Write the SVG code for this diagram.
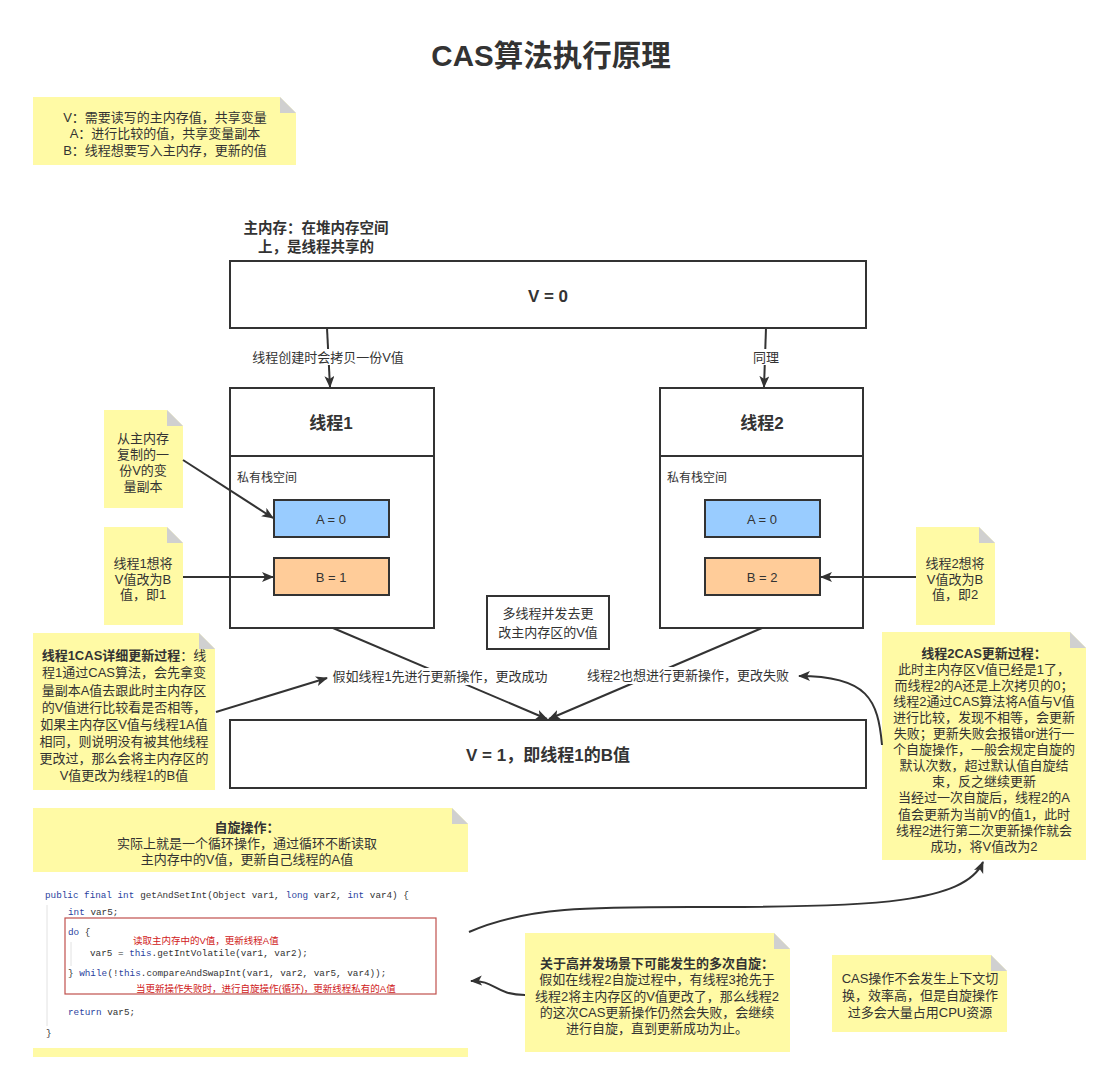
<svg xmlns="http://www.w3.org/2000/svg" width="1111" height="1081" viewBox="0 0 1111 1081">
<style>
.t{font-family:"Liberation Sans","Noto Sans CJK SC",sans-serif;font-size:13px;fill:#333;dominant-baseline:central;text-anchor:middle}
.b{font-weight:bold}
.box{fill:#fff;stroke:#333;stroke-width:2}
.note{fill:#FFFAA5}
.fold{fill:#D0D0D0}
.edge{fill:none;stroke:#333;stroke-width:2}
.code{font-family:"Liberation Mono",monospace;font-size:9.3px;fill:#333}
.kw{fill:#2b3f9e}
.red{font-family:"Liberation Sans","Noto Sans CJK SC",sans-serif;font-size:9.5px;fill:#d02020;dominant-baseline:central}
.lbl{fill:#fff}
</style>
<defs>
<marker id="arr" markerUnits="userSpaceOnUse" markerWidth="14" markerHeight="12" refX="11" refY="5" orient="auto">
<path d="M0,0 L12,5 L0,10 L3,5 Z" fill="#333"/>
</marker>
</defs>
<rect width="1111" height="1081" fill="#fff"/>
<text class="t b" x="551" y="55" style="font-size:29.5px">CAS算法执行原理</text>

<g id="note-legend">
<path class="note" d="M33,97 H280 L296,113 V165 H33 Z"/><path class="fold" d="M280,97 V113 H296 Z"/>
<text class="t" x="165" y="117">V：需要读写的主内存值，共享变量</text>
<text class="t" x="165" y="133">A：进行比较的值，共享变量副本</text>
<text class="t" x="165" y="150">B：线程想要写入主内存，更新的值</text>
</g>

<g id="main-label">
<text class="t b" x="316" y="228" style="font-size:14.5px">主内存：在堆内存空间</text>
<text class="t b" x="316" y="247" style="font-size:14.5px">上，是线程共享的</text>
</g>
<g id="main-memory">
<rect class="box" x="230" y="261" width="636" height="67"/>
<text class="t b" x="548" y="296" style="font-size:17px">V = 0</text>
</g>

<g id="thread1">
<rect class="box" x="230" y="388" width="204" height="240"/>
<line x1="230" y1="456" x2="434" y2="456" stroke="#333" stroke-width="2"/>
<text class="t b" x="331" y="423" style="font-size:17px">线程1</text>
<text class="t" x="237" y="478" style="text-anchor:start;font-size:12px">私有栈空间</text>
</g>
<g id="t1-a"><rect x="274" y="500" width="115" height="37" fill="#99CCFF" stroke="#333" stroke-width="2"/><text class="t" x="331" y="519">A = 0</text></g>
<g id="t1-b"><rect x="274" y="558" width="115" height="37" fill="#FFCC99" stroke="#333" stroke-width="2"/><text class="t" x="331" y="577">B = 1</text></g>

<g id="thread2">
<rect class="box" x="660" y="388" width="203" height="240"/>
<line x1="660" y1="456" x2="863" y2="456" stroke="#333" stroke-width="2"/>
<text class="t b" x="762" y="423" style="font-size:17px">线程2</text>
<text class="t" x="667" y="478" style="text-anchor:start;font-size:12px">私有栈空间</text>
</g>
<g id="t2-a"><rect x="705" y="500" width="115" height="37" fill="#99CCFF" stroke="#333" stroke-width="2"/><text class="t" x="762" y="519">A = 0</text></g>
<g id="t2-b"><rect x="705" y="558" width="115" height="37" fill="#FFCC99" stroke="#333" stroke-width="2"/><text class="t" x="762" y="577">B = 2</text></g>

<g id="concurrent">
<rect class="box" x="487" y="596" width="122" height="53"/>
<text class="t" x="548" y="613">多线程并发去更</text>
<text class="t" x="548" y="632">改主内存区的V值</text>
</g>

<g id="main-memory-after">
<rect class="box" x="230" y="720" width="636" height="68"/>
<text class="t b" x="548" y="755" style="font-size:17px">V = 1，即线程1的B值</text>
</g>

<g id="note-copy">
<path class="note" d="M104,410 H167 L183,426 V508 H104 Z"/><path class="fold" d="M167,410 V426 H183 Z"/>
<text class="t" x="143" y="438">从主内存</text>
<text class="t" x="143" y="454">复制的一</text>
<text class="t" x="143" y="470">份V的变</text>
<text class="t" x="143" y="486">量副本</text>
</g>
<g id="note-b1">
<path class="note" d="M104,527 H167 L183,543 V625 H104 Z"/><path class="fold" d="M167,527 V543 H183 Z"/>
<text class="t" x="143" y="563">线程1想将</text>
<text class="t" x="143" y="579">V值改为B</text>
<text class="t" x="143" y="594">值，即1</text>
</g>
<g id="note-b2">
<path class="note" d="M916,527 H979 L995,543 V625 H916 Z"/><path class="fold" d="M979,527 V543 H995 Z"/>
<text class="t" x="955" y="563">线程2想将</text>
<text class="t" x="955" y="579">V值改为B</text>
<text class="t" x="955" y="594">值，即2</text>
</g>

<g id="note-cas1">
<path class="note" d="M33,633 H199 L215,649 V790 H33 Z"/><path class="fold" d="M199,633 V649 H215 Z"/>
<text class="t" x="124" y="655"><tspan class="b">线程1CAS详细更新过程</tspan>：线</text>
<text class="t" x="124" y="672">程1通过CAS算法，会先拿变</text>
<text class="t" x="124" y="690">量副本A值去跟此时主内存区</text>
<text class="t" x="124" y="707">的V值进行比较看是否相等，</text>
<text class="t" x="124" y="724">如果主内存区V值与线程1A值</text>
<text class="t" x="124" y="741">相同，则说明没有被其他线程</text>
<text class="t" x="124" y="758">更改过，那么会将主内存区的</text>
<text class="t" x="124" y="775">V值更改为线程1的B值</text>
</g>

<g id="note-cas2">
<path class="note" d="M882,632 H1070 L1086,648 V860 H882 Z"/><path class="fold" d="M1070,632 V648 H1086 Z"/>
<text class="t b" x="984" y="653">线程2CAS更新过程：</text>
<text class="t" x="984" y="669">此时主内存区V值已经是1了，</text>
<text class="t" x="984" y="685">而线程2的A还是上次拷贝的0；</text>
<text class="t" x="984" y="701">线程2通过CAS算法将A值与V值</text>
<text class="t" x="984" y="717">进行比较，发现不相等，会更新</text>
<text class="t" x="984" y="733">失败；更新失败会报错or进行一</text>
<text class="t" x="984" y="749">个自旋操作，一般会规定自旋的</text>
<text class="t" x="984" y="765">默认次数，超过默认值自旋结</text>
<text class="t" x="984" y="781">束，反之继续更新</text>
<text class="t" x="984" y="797">当经过一次自旋后，线程2的A</text>
<text class="t" x="984" y="814">值会更新为当前V的值1，此时</text>
<text class="t" x="984" y="830">线程2进行第二次更新操作就会</text>
<text class="t" x="984" y="846">成功，将V值改为2</text>
</g>

<g id="note-spin">
<path class="note" d="M33,808 H452 L468,824 V1057 H33 Z"/><path class="fold" d="M452,808 V824 H468 Z"/>
<text class="t b" x="247" y="827">自旋操作：</text>
<text class="t" x="247" y="843">实际上就是一个循环操作，通过循环不断读取</text>
<text class="t" x="247" y="859">主内存中的V值，更新自己线程的A值</text>
<rect x="33" y="872" width="435" height="176" fill="#fff"/>
<line x1="47" y1="905" x2="47" y2="1026" stroke="#e2e2e2" stroke-width="1"/>
<line x1="71" y1="942" x2="71" y2="966" stroke="#e2e2e2" stroke-width="1"/>
<text class="code kw" x="45" y="898">public final int</text>
<text class="code" x="140.2" y="898">getAndSetInt(Object var1,</text>
<text class="code kw" x="285.8" y="898">long</text>
<text class="code" x="313.8" y="898">var2,</text>
<text class="code kw" x="347.4" y="898">int</text>
<text class="code" x="369.8" y="898">var4) {</text>
<text class="code kw" x="68" y="915">int</text>
<text class="code" x="90.4" y="915">var5;</text>
<text class="code kw" x="68" y="935">do</text>
<text class="code" x="84.8" y="935">{</text>
<text class="code" x="90" y="956">var5 =</text>
<text class="code kw" x="129.2" y="956">this</text>
<text class="code" x="151.6" y="956">.getIntVolatile(var1, var2);</text>
<text class="code" x="68" y="976">}</text>
<text class="code kw" x="79.2" y="976">while</text>
<text class="code" x="107.4" y="976">(!</text>
<text class="code kw" x="118.4" y="976">this</text>
<text class="code" x="140.8" y="976">.compareAndSwapInt(var1, var2, var5, var4));</text>
<text class="code kw" x="68" y="1015">return</text>
<text class="code" x="107.2" y="1015">var5;</text>
<text class="code" x="46" y="1036">}</text>
<rect x="65" y="918" width="371" height="76" fill="none" stroke="#c0504d" stroke-width="1.2"/>
<text class="red" x="133" y="940">读取主内存中的V值，更新线程A值</text>
<text class="red" x="136" y="988">当更新操作失败时，进行自旋操作(循环)，更新线程私有的A值</text>
</g>

<g id="note-high">
<path class="note" d="M525,933 H774 L790,949 V1052 H525 Z"/><path class="fold" d="M774,933 V949 H790 Z"/>
<text class="t b" x="657" y="963">关于高并发场景下可能发生的多次自旋：</text>
<text class="t" x="657" y="979">假如在线程2自旋过程中，有线程3抢先于</text>
<text class="t" x="657" y="996">线程2将主内存区的V值更改了，那么线程2</text>
<text class="t" x="657" y="1012">的这次CAS更新操作仍然会失败，会继续</text>
<text class="t" x="657" y="1028">进行自旋，直到更新成功为止。</text>
</g>

<g id="note-cpu">
<path class="note" d="M832,955 H991 L1007,971 V1032 H832 Z"/><path class="fold" d="M991,955 V971 H1007 Z"/>
<text class="t" x="920" y="978">CAS操作不会发生上下文切</text>
<text class="t" x="920" y="995">换，效率高，但是自旋操作</text>
<text class="t" x="920" y="1012">过多会大量占用CPU资源</text>
</g>

<g id="connectors">
<line class="edge" x1="327" y1="328" x2="330" y2="387" marker-end="url(#arr)"/>
<rect class="lbl" x="252" y="349" width="152" height="16"/>
<text class="t" x="328" y="357">线程创建时会拷贝一份V值</text>
<line class="edge" x1="766" y1="328" x2="764" y2="387" marker-end="url(#arr)"/>
<rect class="lbl" x="752" y="349" width="27" height="16"/>
<text class="t" x="766" y="357">同理</text>
<line class="edge" x1="333" y1="628" x2="547" y2="719" marker-end="url(#arr)"/>
<line class="edge" x1="762" y1="628" x2="549" y2="719" marker-end="url(#arr)"/>
<rect class="lbl" x="330" y="668" width="220" height="17"/>
<text class="t" x="440" y="676">假如线程1先进行更新操作，更改成功</text>
<rect class="lbl" x="585" y="667" width="206" height="17"/>
<text class="t" x="688" y="675">线程2也想进行更新操作，更改失败</text>
<line class="edge" x1="183" y1="460" x2="273" y2="518" marker-end="url(#arr)"/>
<line class="edge" x1="183" y1="577" x2="273" y2="577" marker-end="url(#arr)"/>
<line class="edge" x1="916" y1="577" x2="821" y2="577" marker-end="url(#arr)"/>
<line class="edge" x1="216" y1="712" x2="327" y2="678" marker-end="url(#arr)"/>
<path class="edge" d="M882,745 C878,700 868,676 799,676" marker-end="url(#arr)"/>
<path class="edge" d="M469,932 C530,905 600,907 720,907 C870,907 965,903 983,862" marker-end="url(#arr)"/>
<path class="edge" d="M525,995 C495,995 495,980 471,981" marker-end="url(#arr)"/>
</g>
</svg>
